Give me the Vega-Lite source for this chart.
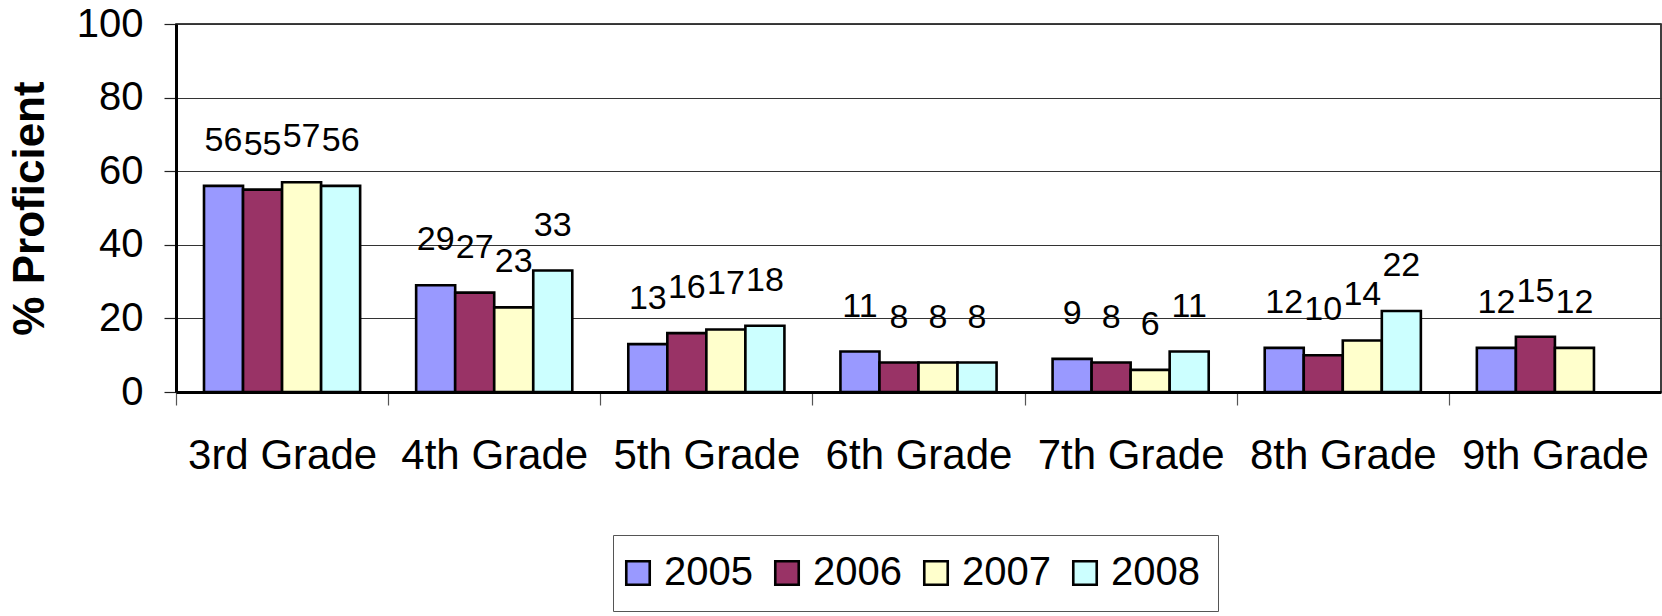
{
  "$schema": "https://vega.github.io/schema/vega-lite/v6.json",
  "width": 1485,
  "height": 368,
  "autosize": {"type": "none"},
  "padding": {"left": 176, "top": 24, "right": 1, "bottom": 224},
  "background": "white",
  "data": {
    "values": [
      {"grade": "3rd Grade", "year": "2005", "pct": 56},
      {"grade": "3rd Grade", "year": "2006", "pct": 55},
      {"grade": "3rd Grade", "year": "2007", "pct": 57},
      {"grade": "3rd Grade", "year": "2008", "pct": 56},
      {"grade": "4th Grade", "year": "2005", "pct": 29},
      {"grade": "4th Grade", "year": "2006", "pct": 27},
      {"grade": "4th Grade", "year": "2007", "pct": 23},
      {"grade": "4th Grade", "year": "2008", "pct": 33},
      {"grade": "5th Grade", "year": "2005", "pct": 13},
      {"grade": "5th Grade", "year": "2006", "pct": 16},
      {"grade": "5th Grade", "year": "2007", "pct": 17},
      {"grade": "5th Grade", "year": "2008", "pct": 18},
      {"grade": "6th Grade", "year": "2005", "pct": 11},
      {"grade": "6th Grade", "year": "2006", "pct": 8},
      {"grade": "6th Grade", "year": "2007", "pct": 8},
      {"grade": "6th Grade", "year": "2008", "pct": 8},
      {"grade": "7th Grade", "year": "2005", "pct": 9},
      {"grade": "7th Grade", "year": "2006", "pct": 8},
      {"grade": "7th Grade", "year": "2007", "pct": 6},
      {"grade": "7th Grade", "year": "2008", "pct": 11},
      {"grade": "8th Grade", "year": "2005", "pct": 12},
      {"grade": "8th Grade", "year": "2006", "pct": 10},
      {"grade": "8th Grade", "year": "2007", "pct": 14},
      {"grade": "8th Grade", "year": "2008", "pct": 22},
      {"grade": "9th Grade", "year": "2005", "pct": 12},
      {"grade": "9th Grade", "year": "2006", "pct": 15},
      {"grade": "9th Grade", "year": "2007", "pct": 12}
    ]
  },
  "encoding": {
    "x": {
      "field": "grade",
      "type": "nominal",
      "sort": null,
      "scale": {"paddingInner": 0.264, "paddingOuter": 0.132},
      "axis": {
        "title": null,
        "labelAngle": 0,
        "labelFontSize": 42,
        "labelFont": "Liberation Sans",
        "labelColor": "black",
        "labelPadding": 30,
        "labelLimit": 400,
        "labelOffset": 106.07,
        "tickOffset": -106.07,
        "tickSize": 13,
        "tickColor": "#555555",
        "tickWidth": 1.2,
        "domainColor": "black",
        "domainWidth": 3
      }
    },
    "xOffset": {
      "field": "year",
      "type": "nominal",
      "scale": {"domain": ["2005", "2006", "2007", "2008"], "paddingInner": 0, "paddingOuter": 0}
    },
    "y": {
      "field": "pct",
      "type": "quantitative",
      "scale": {"domain": [0, 100], "nice": false},
      "axis": {
        "title": "% Proficient",
        "titleFont": "Liberation Sans",
        "titleFontSize": 44,
        "titleFontWeight": "bold",
        "titleColor": "black",
        "titleAngle": 270,
        "titleBaseline": "alphabetic",
        "titleX": -133,
        "values": [0, 20, 40, 60, 80, 100],
        "labelFontSize": 40,
        "labelFont": "Liberation Sans",
        "labelColor": "black",
        "labelPadding": 21,
        "tickSize": 12,
        "tickColor": "#222222",
        "tickWidth": 1.2,
        "domainColor": "black",
        "domainWidth": 3,
        "grid": true,
        "gridColor": "#333333",
        "gridWidth": 1.2
      }
    }
  },
  "layer": [
    {
      "mark": {"type": "bar", "stroke": "black", "strokeWidth": 2.6},
      "encoding": {
        "fill": {
          "field": "year",
          "type": "nominal",
          "scale": {
            "domain": ["2005", "2006", "2007", "2008"],
            "range": ["#9999FF", "#993366", "#FFFFCC", "#CCFFFF"]
          },
          "legend": {
            "title": null,
            "orient": "none",
            "direction": "horizontal",
            "columns": 4,
            "legendX": 437,
            "legendY": 511,
            "padding": 18,
            "strokeColor": "#555555",
            "fillColor": "white",
            "symbolType": "square",
            "symbolSize": 550,
            "symbolOffset": -13,
            "symbolStrokeColor": "black",
            "symbolStrokeWidth": 2.6,
            "symbolOpacity": 1,
            "labelFont": "Liberation Sans",
            "labelFontSize": 40,
            "labelColor": "black",
            "labelOffset": 6,
            "columnPadding": 17,
            "labelLimit": 200
          }
        }
      }
    },
    {
      "mark": {"type": "text", "font": "Liberation Sans", "fontSize": 34, "color": "black", "dy": -35, "baseline": "alphabetic", "align": "center"},
      "encoding": {
        "text": {"field": "pct", "type": "quantitative"}
      }
    }
  ],
  "config": {
    "view": {"stroke": "black", "strokeWidth": 1.5},
    "font": "Liberation Sans"
  }
}
